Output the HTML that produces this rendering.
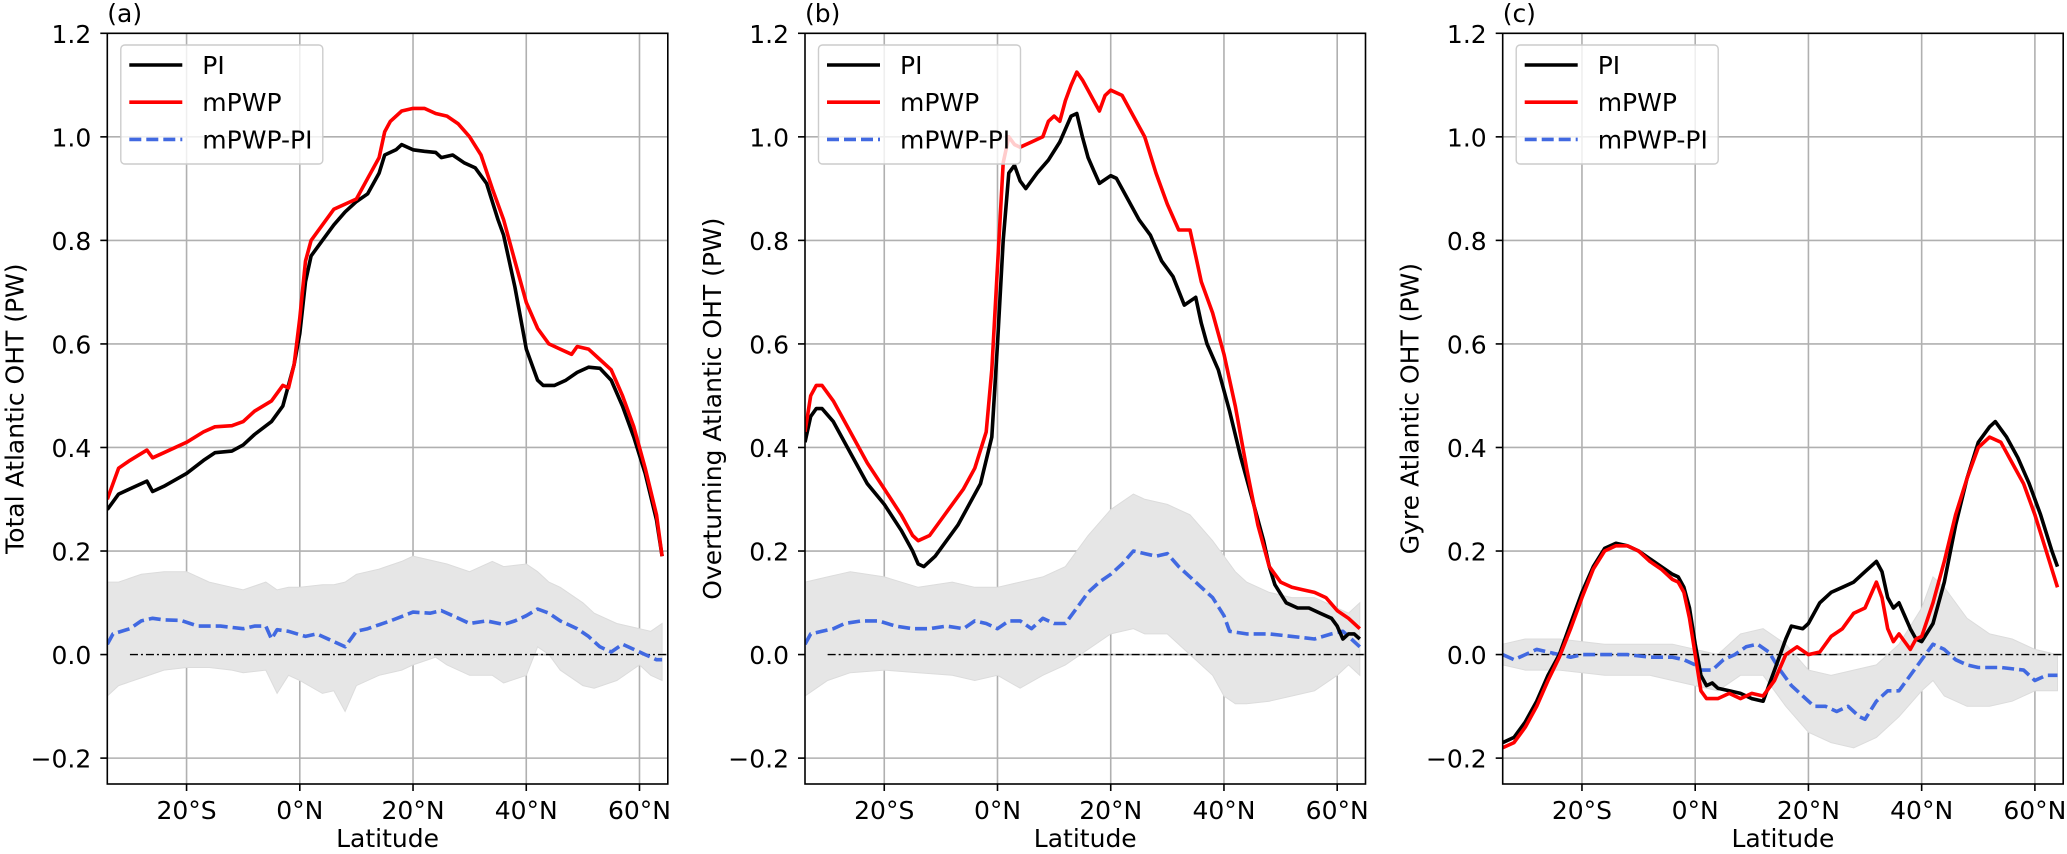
<!DOCTYPE html>
<html><head><meta charset="utf-8">
<style>
html,body{margin:0;padding:0;background:#fff;}
svg{display:block;font-family:"DejaVu Sans","Liberation Sans",sans-serif;}
</style></head>
<body>
<svg id="fig" width="2067" height="854" viewBox="0 0 2067 854" xmlns="http://www.w3.org/2000/svg"></svg>
<script>
// ---- data ----
const xTicks = [-20, 0, 20, 40, 60];
const xTickLabels = ["20°S", "0°N", "20°N", "40°N", "60°N"];
const yTicks = [-0.2, 0, 0.2, 0.4, 0.6, 0.8, 1.0, 1.2];
const yTickLabels = ["\u22120.2", "0.0", "0.2", "0.4", "0.6", "0.8", "1.0", "1.2"];
const panelLetters = ["(a)", "(b)", "(c)"];
const panelYLabels = ["Total Atlantic OHT (PW)", "Overturning Atlantic OHT (PW)", "Gyre Atlantic OHT (PW)"];

// Panel a
const aPiLat = [-34,-32,-30,-27,-26,-24,-20,-17,-15,-12,-10,-8,-5,-3,-1,0,1,2,4,6,8,10,12,14,15,17,18,20,22,24,25,27,29,31,33,35,36,38,40,42,43,45,47,49,51,53,55,57,59,61,63,64];
const aPiVal = [0.28,0.31,0.32,0.335,0.315,0.325,0.35,0.375,0.39,0.393,0.405,0.425,0.45,0.48,0.56,0.62,0.72,0.77,0.80,0.83,0.855,0.875,0.89,0.93,0.965,0.975,0.985,0.975,0.972,0.97,0.96,0.965,0.95,0.94,0.91,0.84,0.81,0.71,0.59,0.53,0.52,0.52,0.53,0.545,0.555,0.553,0.53,0.48,0.42,0.35,0.26,0.19];
const aMpLat = [-34,-32,-30,-27,-26,-24,-20,-17,-15,-12,-10,-8,-5,-3,-2,-1,0,1,2,4,6,8,10,12,14,15,16,18,20,22,24,26,28,30,32,34,36,38,40,42,44,46,48,49,51,53,55,57,59,61,63,64];
const aMpVal = [0.30,0.36,0.375,0.395,0.38,0.39,0.41,0.43,0.44,0.442,0.45,0.47,0.49,0.52,0.515,0.56,0.65,0.76,0.80,0.83,0.86,0.87,0.88,0.92,0.96,1.01,1.03,1.05,1.055,1.055,1.045,1.04,1.025,1.0,0.965,0.9,0.84,0.76,0.68,0.63,0.6,0.59,0.58,0.595,0.59,0.57,0.55,0.5,0.44,0.36,0.27,0.19];
const aDiffLat = [-34,-33,-30,-28,-26,-24,-21,-18,-14,-10,-8,-6,-5,-4,-2,1,3,6,8,10,12,16,20,23,25,27,30,33,36,38,40,42,44,46,49,51,53,55,57,59,61,63,64];
const aDiffVal = [0.02,0.04,0.05,0.065,0.07,0.067,0.066,0.055,0.055,0.05,0.055,0.055,0.03,0.048,0.045,0.035,0.04,0.025,0.015,0.045,0.05,0.065,0.082,0.08,0.085,0.075,0.06,0.065,0.058,0.065,0.075,0.088,0.08,0.065,0.05,0.035,0.015,0.005,0.02,0.01,0.0,-0.01,-0.01];
const aBandLat = [-34,-32,-28,-24,-20,-16,-12,-10,-6,-4,-2,0,4,6,8,10,14,18,20,24,26,30,34,36,40,42,44,46,50,52,56,60,62,64];
const aBandHi = [0.14,0.14,0.155,0.16,0.16,0.14,0.13,0.125,0.14,0.125,0.13,0.13,0.135,0.135,0.14,0.155,0.165,0.18,0.19,0.18,0.175,0.16,0.18,0.17,0.175,0.16,0.14,0.13,0.1,0.08,0.06,0.05,0.045,0.06];
const aBandLo = [-0.08,-0.06,-0.045,-0.03,-0.025,-0.025,-0.03,-0.035,-0.03,-0.075,-0.04,-0.05,-0.075,-0.07,-0.11,-0.06,-0.04,-0.03,-0.02,-0.005,-0.02,-0.04,-0.04,-0.055,-0.04,0.015,0.0,-0.03,-0.06,-0.065,-0.05,-0.02,-0.04,-0.05];

// Panel b
const bPiLat = [-34,-33,-32,-31,-29,-26,-23,-20,-17,-15,-14,-13,-11,-9,-7,-5,-3,-1,0,1,2,3,4,5,7,9,11,13,14,15,16,17,18,20,21,23,25,27,29,31,33,35,36,37,39,41,43,45,47,48,49,51,53,55,57,59,60,61,62,63,64];
const bPiVal = [0.41,0.46,0.475,0.475,0.45,0.39,0.33,0.29,0.24,0.2,0.175,0.17,0.19,0.22,0.25,0.29,0.33,0.42,0.6,0.8,0.93,0.945,0.915,0.9,0.93,0.955,0.99,1.04,1.045,1.0,0.96,0.935,0.91,0.925,0.92,0.88,0.84,0.81,0.76,0.73,0.675,0.69,0.64,0.6,0.55,0.47,0.38,0.3,0.22,0.17,0.135,0.1,0.09,0.09,0.08,0.07,0.055,0.03,0.04,0.04,0.03];
const bMpLat = [-34,-33,-32,-31,-29,-26,-23,-20,-17,-15,-14,-12,-10,-8,-6,-4,-2,-1,0,1,2,3,4,6,8,9,10,11,12,13,14,15,16,17,18,19,20,22,24,26,28,30,32,34,35,36,38,40,42,44,46,48,50,52,54,56,58,60,62,64];
const bMpVal = [0.43,0.5,0.52,0.52,0.49,0.43,0.37,0.32,0.27,0.23,0.22,0.23,0.26,0.29,0.32,0.36,0.43,0.55,0.75,0.95,1.0,0.985,0.98,0.99,1.0,1.03,1.04,1.03,1.07,1.1,1.125,1.11,1.09,1.07,1.05,1.08,1.09,1.08,1.04,1.0,0.93,0.87,0.82,0.82,0.77,0.72,0.66,0.58,0.48,0.36,0.25,0.17,0.14,0.13,0.125,0.12,0.11,0.085,0.07,0.05];
const bDiffLat = [-34,-33,-31,-29,-27,-24,-21,-18,-15,-12,-9,-6,-4,-2,0,2,4,6,8,10,12,14,16,18,20,22,24,26,28,30,32,34,36,38,40,41,44,48,52,56,59,61,64];
const bDiffVal = [0.02,0.04,0.045,0.05,0.06,0.065,0.065,0.055,0.05,0.05,0.055,0.05,0.065,0.06,0.05,0.065,0.065,0.05,0.07,0.06,0.06,0.09,0.12,0.14,0.155,0.175,0.2,0.195,0.19,0.195,0.17,0.15,0.13,0.11,0.075,0.045,0.04,0.04,0.035,0.03,0.04,0.045,0.015];
const bBandLat = [-34,-30,-26,-20,-14,-8,-4,0,4,8,12,16,20,24,26,30,34,38,40,42,44,48,52,56,60,62,64];
const bBandHi = [0.14,0.15,0.16,0.15,0.13,0.14,0.13,0.13,0.14,0.15,0.17,0.23,0.28,0.31,0.30,0.29,0.27,0.22,0.19,0.16,0.14,0.12,0.11,0.11,0.09,0.08,0.1];
const bBandLo = [-0.08,-0.05,-0.035,-0.03,-0.035,-0.04,-0.05,-0.04,-0.065,-0.04,-0.02,0.01,0.04,0.05,0.04,0.04,0.0,-0.04,-0.08,-0.095,-0.095,-0.09,-0.08,-0.07,-0.04,-0.02,-0.04];

// Panel c
const cPiLat = [-34,-32,-30,-28,-26,-24,-22,-20,-18,-16,-14,-12,-10,-8,-6,-4,-3,-2,-1,0,1,2,3,4,6,8,10,12,14,16,17,19,20,22,24,26,28,30,32,33,34,35,36,38,39,40,42,44,46,48,50,52,53,55,57,59,61,63,64];
const cPiVal = [-0.17,-0.16,-0.13,-0.09,-0.04,0.0,0.06,0.12,0.17,0.205,0.215,0.21,0.2,0.185,0.17,0.155,0.15,0.13,0.09,0.02,-0.04,-0.06,-0.055,-0.065,-0.07,-0.075,-0.085,-0.09,-0.03,0.03,0.055,0.05,0.06,0.1,0.12,0.13,0.14,0.16,0.18,0.16,0.11,0.09,0.1,0.05,0.03,0.025,0.06,0.14,0.25,0.34,0.41,0.44,0.45,0.42,0.38,0.33,0.27,0.2,0.17];
const cMpLat = [-34,-32,-30,-28,-26,-24,-22,-20,-18,-16,-14,-12,-10,-8,-6,-4,-3,-2,-1,0,1,2,4,6,8,10,12,14,16,18,20,22,24,26,28,30,32,33,34,35,36,38,39,40,42,44,46,48,50,52,54,56,58,60,62,64];
const cMpVal = [-0.18,-0.17,-0.14,-0.1,-0.05,-0.005,0.05,0.11,0.165,0.2,0.21,0.21,0.2,0.18,0.165,0.145,0.14,0.12,0.07,0.0,-0.07,-0.085,-0.085,-0.075,-0.085,-0.075,-0.08,-0.05,0.0,0.015,0.0,0.005,0.035,0.05,0.08,0.09,0.14,0.11,0.05,0.025,0.04,0.01,0.03,0.035,0.1,0.18,0.27,0.34,0.4,0.42,0.41,0.37,0.33,0.27,0.2,0.13];
const cDiffLat = [-34,-32,-30,-28,-26,-24,-22,-20,-16,-12,-8,-4,-2,0,1,3,5,7,9,11,13,15,17,19,21,23,25,27,29,30,32,34,36,38,40,42,44,46,48,50,54,58,60,62,64];
const cDiffVal = [0.0,-0.01,0.0,0.01,0.005,0.0,-0.005,0.0,0.0,0.0,-0.005,-0.005,-0.01,-0.02,-0.03,-0.03,-0.01,0.0,0.015,0.02,0.005,-0.03,-0.06,-0.08,-0.1,-0.1,-0.11,-0.1,-0.12,-0.125,-0.09,-0.07,-0.07,-0.04,-0.01,0.02,0.01,-0.01,-0.02,-0.025,-0.025,-0.03,-0.05,-0.04,-0.04];
const cBandLat = [-34,-30,-24,-16,-8,-4,0,4,8,12,16,20,24,28,32,36,40,42,44,48,52,56,60,64];
const cBandHi = [0.02,0.03,0.03,0.02,0.02,0.02,0.01,0.0,0.04,0.05,0.02,-0.03,-0.04,-0.03,-0.02,0.02,0.09,0.15,0.13,0.07,0.04,0.03,0.01,0.0];
const cBandLo = [-0.02,-0.03,-0.03,-0.04,-0.04,-0.05,-0.06,-0.07,-0.04,-0.04,-0.1,-0.15,-0.17,-0.18,-0.16,-0.12,-0.07,-0.05,-0.08,-0.1,-0.1,-0.09,-0.07,-0.07];

const panels = [
  {pi:[aPiLat,aPiVal], mp:[aMpLat,aMpVal], df:[aDiffLat,aDiffVal], band:[aBandLat,aBandHi,aBandLo]},
  {pi:[bPiLat,bPiVal], mp:[bMpLat,bMpVal], df:[bDiffLat,bDiffVal], band:[bBandLat,bBandHi,bBandLo]},
  {pi:[cPiLat,cPiVal], mp:[cMpLat,cMpVal], df:[cDiffLat,cDiffVal], band:[cBandLat,cBandHi,cBandLo]}
];

// ---- layout ----
const NS = "http://www.w3.org/2000/svg";
const svg = document.getElementById("fig");
const AX_W = 560.5, AX_TOP = 33.3, AX_BOT = 784;
const AX_LEFT = [107.3, 805, 1502.7];
const XMIN = -34, XMAX = 65, YMIN = -0.25, YMAX = 1.2;
const FS = 25;

function el(tag, attrs, parent) {
  const e = document.createElementNS(NS, tag);
  for (const k in attrs) e.setAttribute(k, attrs[k]);
  (parent || svg).appendChild(e);
  return e;
}

panels.forEach((p, i) => {
  const L = AX_LEFT[i];
  const xs = v => L + (v - XMIN) / (XMAX - XMIN) * AX_W;
  const ys = v => AX_BOT - (v - YMIN) / (YMAX - YMIN) * (AX_BOT - AX_TOP);
  const g = el("g", {});
  
  
  const clipId = "clip" + i;
  const cp = el("clipPath", {id: clipId}, g);
  el("rect", {x: L, y: AX_TOP, width: AX_W, height: AX_BOT - AX_TOP}, cp);

  xTicks.forEach(t => {
    const gl = el("line", {x1: xs(t), x2: xs(t), y1: AX_TOP, y2: AX_BOT, stroke: "#b0b0b0", "stroke-width": 1.6}, g);
    
    
  });
  yTicks.forEach(t => {
    const gl = el("line", {x1: L, x2: L + AX_W, y1: ys(t), y2: ys(t), stroke: "#b0b0b0", "stroke-width": 1.6}, g);
    
    
  });

  const plot = el("g", {"clip-path": "url(#" + clipId + ")"}, g);
  const [bl, bh, blo] = p.band;
  let d = bl.map((v, k) => (k ? "L" : "M") + xs(v).toFixed(1) + "," + ys(bh[k]).toFixed(1)).join("");
  for (let k = bl.length - 1; k >= 0; k--) d += "L" + xs(bl[k]).toFixed(1) + "," + ys(blo[k]).toFixed(1);
  const band = el("path", {d: d + "Z", fill: "#e6e6e6", stroke: "#dcdcdc", "stroke-width": 1}, plot);
  
  

  const z = el("line", {x1: xs(-30), x2: xs(XMAX), y1: ys(0), y2: ys(0), stroke: "#000", "stroke-width": 1.4, "stroke-dasharray": "8,3,2,3"}, plot);
  
  

  const line = (arr, color, name, dash) => {
    const [lat, val] = arr;
    const dd = lat.map((v, k) => (k ? "L" : "M") + xs(v).toFixed(1) + "," + ys(val[k]).toFixed(1)).join("");
    const a = {d: dd, fill: "none", stroke: color, "stroke-width": 3.6, "stroke-linejoin": "round"};
    if (dash) a["stroke-dasharray"] = dash;
    const pth = el("path", a, plot);
    
    
  };
  line(p.df, "#4169e1", "mpwp-pi-line", "12,5");
  line(p.pi, "#000", "pi-line");
  line(p.mp, "#ff0000", "mpwp-line");

  const fr = el("rect", {x: L, y: AX_TOP, width: AX_W, height: AX_BOT - AX_TOP, fill: "none", stroke: "#000", "stroke-width": 1.6}, g);
  
  

  xTicks.forEach((t, k) => {
    el("line", {x1: xs(t), x2: xs(t), y1: AX_BOT, y2: AX_BOT + 7, stroke: "#000", "stroke-width": 1.6}, g);
    const tx = el("text", {x: xs(t), y: AX_BOT + 35, "text-anchor": "middle", "font-size": FS}, g);
    tx.textContent = xTickLabels[k];
    
    
  });
  yTicks.forEach((t, k) => {
    el("line", {x1: L - 7, x2: L, y1: ys(t), y2: ys(t), stroke: "#000", "stroke-width": 1.6}, g);
    const tx = el("text", {x: L - 16, y: ys(t) + 9.5, "text-anchor": "end", "font-size": FS}, g);
    tx.textContent = yTickLabels[k];
    
    
  });

  const xl = el("text", {x: L + AX_W / 2, y: 847, "text-anchor": "middle", "font-size": FS}, g);
  xl.textContent = "Latitude";
  
  

  const yl = el("text", {x: 0, y: 0, "text-anchor": "middle", "font-size": FS, transform: "translate(" + (L - 84) + "," + ((AX_TOP + AX_BOT) / 2) + ") rotate(-90)"}, g);
  yl.textContent = panelYLabels[i];
  
  

  const pl = el("text", {x: L, y: 22, "font-size": FS}, g);
  pl.textContent = panelLetters[i];
  
  

  const lg = el("g", {}, g);
  
  
  el("rect", {x: L + 13.5, y: 45, width: 202, height: 119, rx: 4, fill: "#fff", "fill-opacity": 0.8, stroke: "#cccccc", "stroke-width": 1.4}, lg);
  const entries = [["PI", "#000", null], ["mPWP", "#ff0000", null], ["mPWP-PI", "#4169e1", "12,5"]];
  entries.forEach((en, k) => {
    const yy = 65 + k * 37.2;
    const a = {x1: L + 22, x2: L + 75, y1: yy, y2: yy, stroke: en[1], "stroke-width": 3.6};
    if (en[2]) a["stroke-dasharray"] = en[2];
    el("line", a, lg);
    const t = el("text", {x: L + 95, y: yy + 9, "font-size": FS}, lg);
    t.textContent = en[0];
    
    
  });
});
</script>
</body></html>
